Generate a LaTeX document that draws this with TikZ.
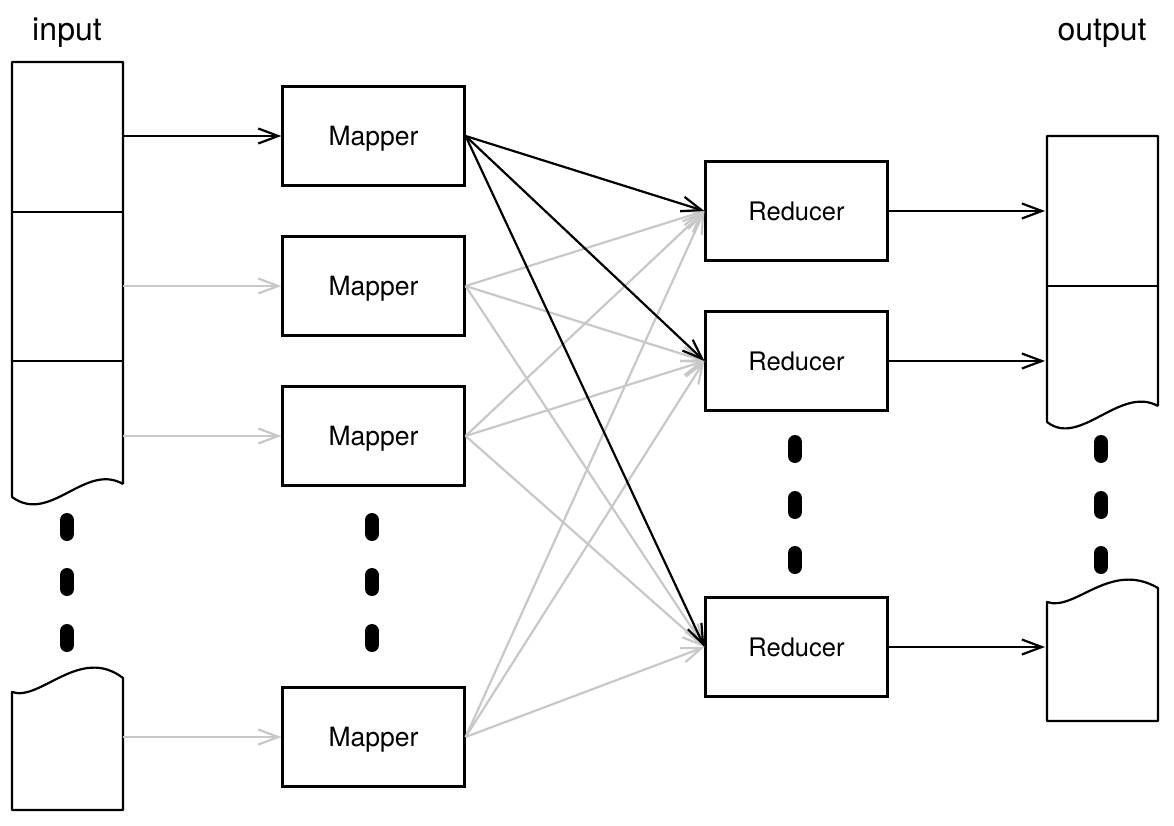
\documentclass[tikz,border=0pt]{standalone}
\usepackage{fontspec}
\setmainfont{TeX Gyre Heros}
\usetikzlibrary{arrows.meta}
\definecolor{arrowgray}{RGB}{200,200,200}
\begin{document}
\begin{tikzpicture}[x=1pt,y=-1pt,
  box/.style={draw,line width=2.2pt,minimum width=182pt,minimum height=99pt,inner sep=0pt,
    text height=19pt,text depth=0pt,font=\fontsize{26.5}{30}\selectfont},
  tape/.style={draw,line width=2.2pt},
  link/.style={line width=2.2pt,-{Straight Barb[length=20pt,width=15pt]}},
  dimlink/.style={link,draw=arrowgray},
  dotmark/.style={line width=14pt,line cap=round},
  lbl/.style={font=\fontsize{32}{36}\selectfont,inner sep=0pt}]
\useasboundingbox (0,0) rectangle (1174,826);
% labels
\node[lbl] (inlbl) at (67,33) {input};
\node[lbl] (outlbl) at (1102,33) {output};
% input tape
\draw[tape,line join=round] (123,484) -- (123,62) -- (12,62) -- (12,497)
  .. controls (50,525) and (85,462) .. (123,484);
\draw[tape] (12,212) -- (123,212);
\draw[tape] (12,361) -- (123,361);
\draw[tape,line join=round] (12,692) .. controls (40,702) and (80,645) .. (123,678)
  -- (123,810) -- (12,810) -- cycle;
% output tape
\draw[tape,line join=round] (1158,406) -- (1158,136) -- (1047,136) -- (1047,422)
  .. controls (1080,448) and (1120,385) .. (1158,406);
\draw[tape] (1047,286) -- (1158,286);
\draw[tape,line join=round] (1047,602) .. controls (1075,612) and (1110,560) .. (1158,588)
  -- (1158,721) -- (1047,721) -- cycle;
% input / output connection points
\coordinate (in1) at (123,136);
\coordinate (in2) at (123,286);
\coordinate (in3) at (123,436);
\coordinate (in4) at (123,737);
\coordinate (out1) at (1045,211);
\coordinate (out2) at (1045,361);
\coordinate (out3) at (1045,647);
% mappers
\node[box] (m1) at (373.5,136) {Mapper};
\node[box] (m2) at (373.5,286) {Mapper};
\node[box] (m3) at (373.5,436) {Mapper};
\node[box] (m4) at (373.5,737) {Mapper};
% reducers
\node[box,font=\fontsize{25.5}{30}\selectfont] (r1) at (796.5,211) {Reducer};
\node[box,font=\fontsize{25.5}{30}\selectfont] (r2) at (796.5,361) {Reducer};
\node[box,font=\fontsize{25.5}{30}\selectfont] (r3) at (796.5,647) {Reducer};
% dots
\foreach \x in {67,372} {
  \foreach \y in {527,582,638} {
    \draw[dotmark] (\x,\y-7) -- (\x,\y+7);
  }
}
\foreach \x in {795,1101} {
  \foreach \y in {449,505,560} {
    \draw[dotmark] (\x,\y-7) -- (\x,\y+7);
  }
}
% gray arrows
\draw[dimlink] (in2) -- (m2.west);
\draw[dimlink] (in3) -- (m3.west);
\draw[dimlink] (in4) -- (m4.west);
\foreach \m in {m2,m3,m4} {
  \foreach \r in {r1,r2,r3} {
    \draw[dimlink] (\m.east) -- (\r.west);
  }
}
% black arrows
\draw[link] (in1) -- (m1.west);
\draw[link] (m1.east) -- (r1.west);
\draw[link] (m1.east) -- (r2.west);
\draw[link] (m1.east) -- (r3.west);
\draw[link] (r1.east) -- (out1);
\draw[link] (r2.east) -- (out2);
\draw[link] (r3.east) -- (out3);
\end{tikzpicture}
\end{document}
